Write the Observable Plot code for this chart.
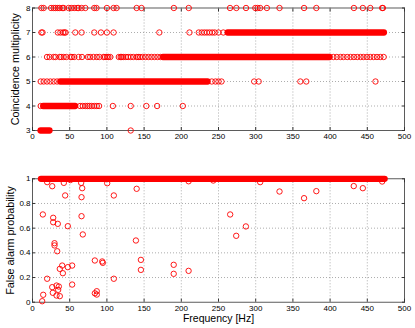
<!DOCTYPE html>
<html><head><meta charset="utf-8">
<script src="https://cdn.jsdelivr.net/npm/d3@7"></script>
<script src="https://cdn.jsdelivr.net/npm/@observablehq/plot@0.6"></script>
<style>
html,body{margin:0;padding:0;background:#fff;}
#chart svg{display:block;}
</style></head>
<body><div id="chart"></div>
<script>
// ---------- tick labels ----------
const freqTicks = [0, 50, 100, 150, 200, 250, 300, 350, 400, 450, 500];
const multTicks = [3, 4, 5, 6, 7, 8];
const probTicks = [0, 0.2, 0.4, 0.6, 0.8, 1];

// ---------- top panel: isolated markers (frequency, Hz) per multiplicity ----------
const mult3 = [132];
const mult4 = [11, 64, 67.5, 71, 74, 76.5, 79.5, 83, 86.5, 89.5, 108, 132, 153, 167.5, 202];
const mult5 = [11, 15, 19.5, 24, 28.5, 33, 241, 246, 250, 254, 298, 304, 360, 368, 461];
const mult6 = [19.5, 23, 28.5, 31, 36.5, 38.5, 42, 45.5, 51, 53, 56, 62, 66.5, 74.5, 77.5, 82, 86.5, 90, 95.5, 97.5, 100, 102, 104.5, 116, 118.5, 120, 122, 125.5, 128.5, 132, 135.5, 140, 142, 144.5, 148, 152, 156, 160, 164, 168, 172, 404.5, 409, 414, 418, 423, 427.5, 432, 436.5, 441, 445, 449.5, 454, 458.5, 463, 467.5, 472];
const mult7 = [12, 13.5, 34, 37.5, 41, 43, 44.5, 57.5, 66, 83, 92, 100, 109, 170.5, 211, 223.5, 227.5, 231, 234.5, 238, 241.5, 245, 250, 256.5];
const mult8 = [12, 15, 25, 28.5, 31, 34, 36.5, 40, 42, 48.5, 52, 56, 60, 62, 66, 71, 83, 86, 100, 109, 113, 140, 146.5, 190, 210, 265.5, 274, 287, 299.5, 302.5, 306, 315, 332, 365, 381.5, 432, 444, 454, 470, 471];

// dense stretches where markers overlap into a solid bar (from / to, Hz)
const runMult  = [3, 4, 5, 6, 7];
const runStart = [11.5, 15, 38, 176, 263];
const runEnd   = [23.5, 58, 236, 400, 473];

// ---------- bottom panel: false alarm probability ----------
const faFreq = [13.9, 19.7, 26.5, 42.1, 65.4, 66.8, 100.4, 43.9, 65.9, 109.3, 27.8, 27.8, 34, 47.5, 65.9, 67.6, 29.6, 29.6, 33.2, 39.9, 36.7, 47.5, 53.3, 40.8, 83.8, 93.7, 94.5, 109.3, 19.7, 53.3, 26.5, 32.3, 35.4, 34.5, 27.3, 32.3, 36.7, 14.4, 13, 83.8, 86.4, 86.4, 139, 140, 145.7, 145.7, 189.8, 189.8, 209.8, 209.8, 243, 265.7, 273.8, 286.8, 306, 332, 365, 381.5, 431.8, 444, 470, 51];
const faProb = [0.711, 0.973, 0.94, 0.967, 0.967, 0.924, 0.964, 0.865, 0.851, 0.865, 0.684, 0.648, 0.635, 0.616, 0.697, 0.549, 0.478, 0.46, 0.413, 0.297, 0.27, 0.284, 0.297, 0.235, 0.338, 0.33, 0.319, 0.19, 0.19, 0.143, 0.122, 0.135, 0.127, 0.1, 0.076, 0.054, 0.049, 0.06, 0.008, 0.072, 0.089, 0.062, 0.5, 0.919, 0.343, 0.262, 0.303, 0.23, 0.254, 0.98, 0.986, 0.711, 0.538, 0.614, 0.973, 0.897, 0.843, 0.9, 0.941, 0.924, 0.978, 0.99];
const faRunProb  = [1];
const faRunStart = [12];
const faRunEnd   = [474];

// ---------- styling ----------
const RED = "#ff0000";
const R = 2.7, SW = 0.9, BAND = 6.3;
const FONT = "'Liberation Sans', Arial, Helvetica, sans-serif";
const gridStyle = {stroke: "#8a8a8a", strokeOpacity: 1, strokeWidth: 0.7, strokeDasharray: "1,2"};

const topDots = [[3, mult3], [4, mult4], [5, mult5], [6, mult6], [7, mult7], [8, mult8]]
  .flatMap(([m, fs]) => fs.map(f => ({f, m})));
const runIdx = runMult.map((_, i) => i);
const faIdx = faFreq.map((_, i) => i);
const faRunIdx = faRunProb.map((_, i) => i);

function frameAxes(yTicks, yFmt) {
  return [
    Plot.gridX(freqTicks.slice(1, -1), gridStyle),
    Plot.gridY(yTicks.slice(1, -1), gridStyle),
    Plot.frame({stroke: "#333", strokeWidth: 0.8}),
    Plot.axisX({ticks: freqTicks, anchor: "bottom", tickSize: -3, tickPadding: 6, label: null, stroke: "#333"}),
    Plot.axisX({ticks: freqTicks, anchor: "top", tickSize: -3, fill: "none", label: null, stroke: "#333"}),
    Plot.axisY({ticks: yTicks, anchor: "left", tickSize: -3, tickPadding: 5, label: null, tickFormat: yFmt, stroke: "#333"}),
    Plot.axisY({ticks: yTicks, anchor: "right", tickSize: -3, fill: "none", label: null, stroke: "#333"})
  ];
}

const topPlot = Plot.plot({
  width: 415, height: 152,
  marginLeft: 32, marginRight: 11, marginTop: 7.5, marginBottom: 22,
  style: {fontFamily: FONT, fontSize: "8px", color: "#000", background: "#fff"},
  x: {domain: [0, 500]},
  y: {domain: [3, 8]},
  marks: [
    ...frameAxes(multTicks, d3.format("d")),
    Plot.ruleY(runIdx, {y: i => runMult[i], x1: i => runStart[i], x2: i => runEnd[i], stroke: RED, strokeWidth: BAND, strokeLinecap: "round"}),
    Plot.dot(topDots, {x: "f", y: "m", r: R, stroke: RED, strokeWidth: SW, fill: "none"}),
    Plot.text(["Coincidence multiplicity"], {frameAnchor: "left", textAnchor: "middle", dx: -17, rotate: -90, fontSize: 10.8, fill: "#000"})
  ]
});

const bottomPlot = Plot.plot({
  width: 415, height: 176,
  marginLeft: 32, marginRight: 11, marginTop: 26.3, marginBottom: 26.3,
  style: {fontFamily: FONT, fontSize: "8px", color: "#000", background: "#fff"},
  x: {domain: [0, 500]},
  y: {domain: [0, 1]},
  marks: [
    ...frameAxes(probTicks, d3.format("")),
    Plot.ruleY(faRunIdx, {y: i => faRunProb[i], x1: i => faRunStart[i], x2: i => faRunEnd[i], stroke: RED, strokeWidth: BAND, strokeLinecap: "round"}),
    Plot.dot(faIdx, {x: i => faFreq[i], y: i => faProb[i], r: R, stroke: RED, strokeWidth: SW, fill: "none"}),
    Plot.text(["False alarm probability"], {frameAnchor: "left", textAnchor: "middle", dx: -22, rotate: -90, fontSize: 10.8, fill: "#000"}),
    Plot.text(["Frequency [Hz]"], {frameAnchor: "bottom", textAnchor: "middle", dy: 19.5, fontSize: 10.5, fill: "#000"})
  ]
});

const chart = document.getElementById("chart");
chart.appendChild(topPlot);
chart.appendChild(bottomPlot);
</script>
</body></html>
